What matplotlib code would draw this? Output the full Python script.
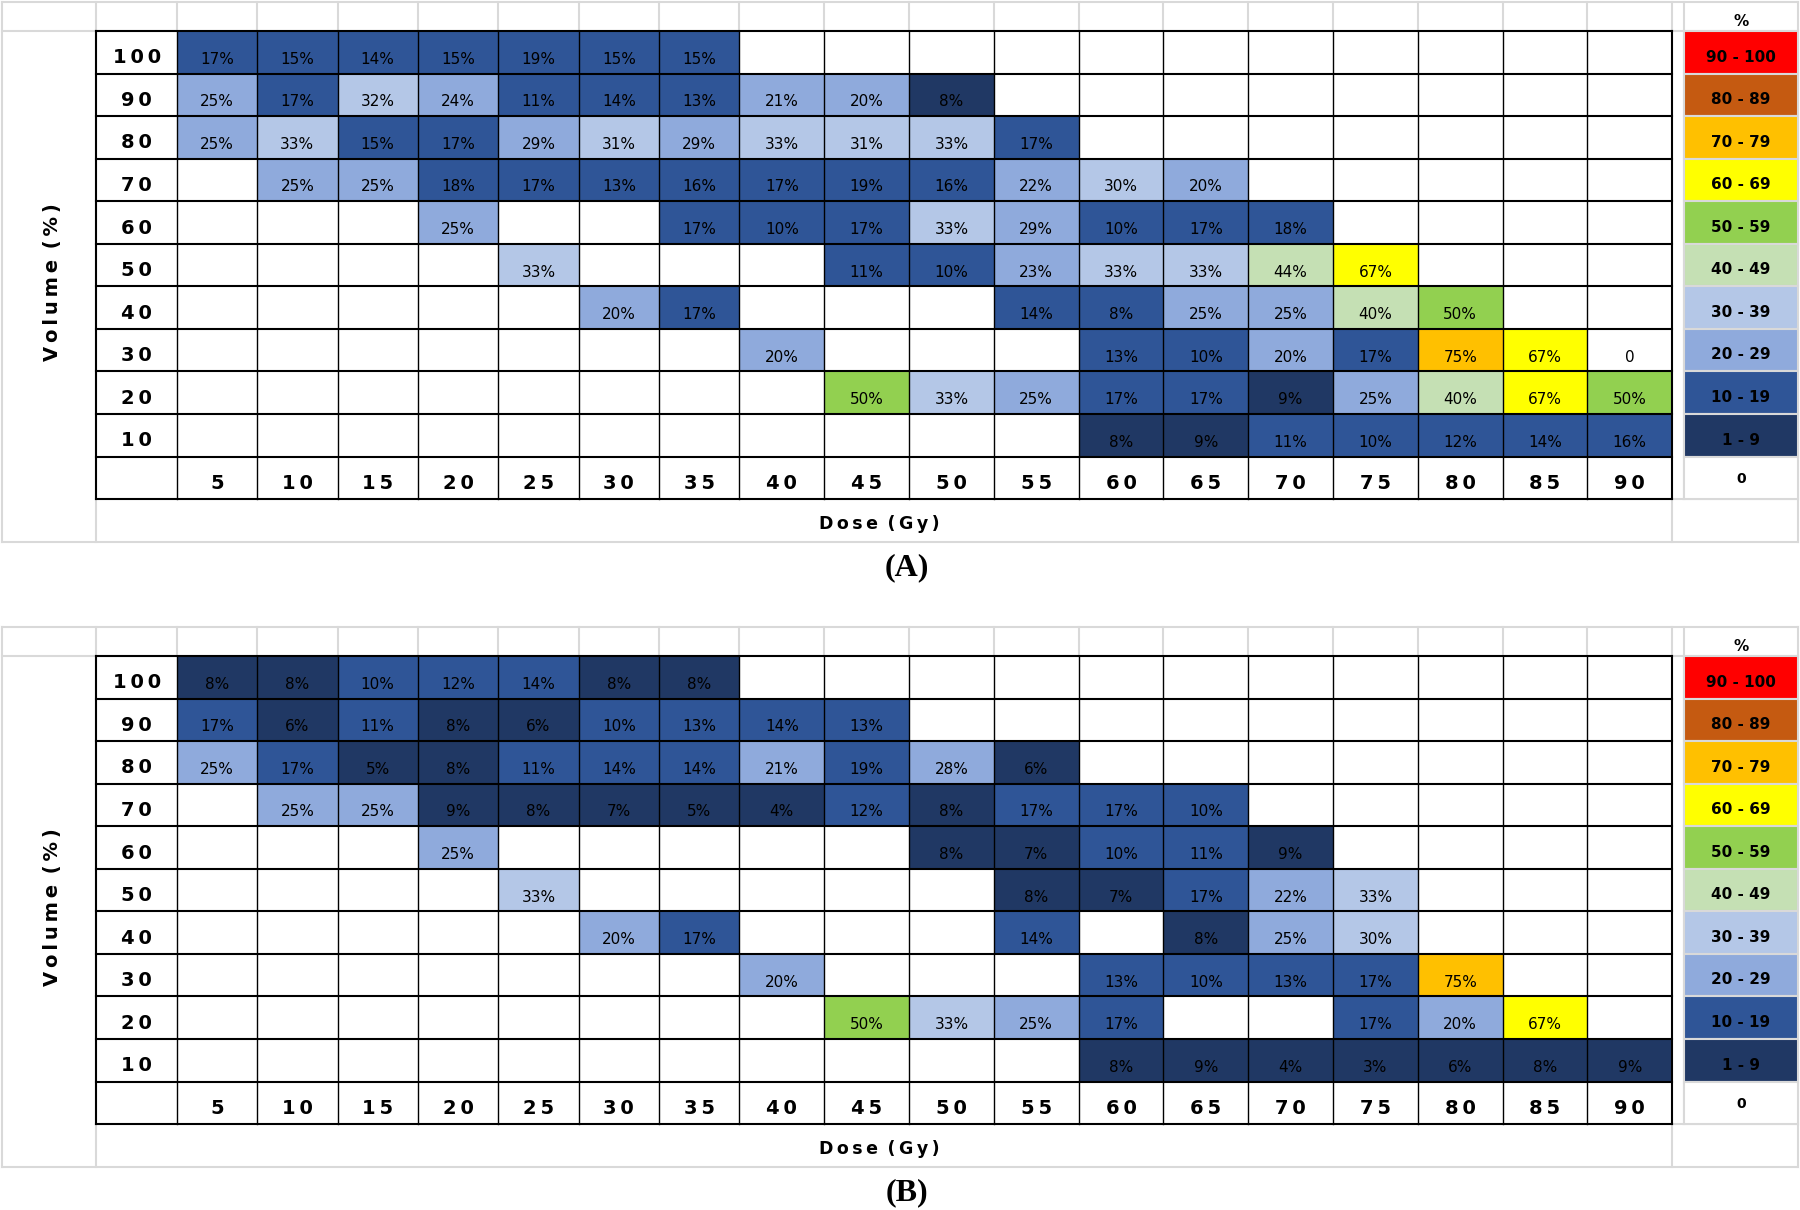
import matplotlib
matplotlib.use("Agg")
import matplotlib.pyplot as plt
from matplotlib.patches import Rectangle

# ---------------- data ----------------
doses = [5, 10, 15, 20, 25, 30, 35, 40, 45, 50, 55, 60, 65, 70, 75, 80, 85, 90]
volumes = [100, 90, 80, 70, 60, 50, 40, 30, 20, 10]
N = None

values_A = [
    [17, 15, 14, 15, 19, 15, 15, N, N, N, N, N, N, N, N, N, N, N],
    [25, 17, 32, 24, 11, 14, 13, 21, 20, 8, N, N, N, N, N, N, N, N],
    [25, 33, 15, 17, 29, 31, 29, 33, 31, 33, 17, N, N, N, N, N, N, N],
    [N, 25, 25, 18, 17, 13, 16, 17, 19, 16, 22, 30, 20, N, N, N, N, N],
    [N, N, N, 25, N, N, 17, 10, 17, 33, 29, 10, 17, 18, N, N, N, N],
    [N, N, N, N, 33, N, N, N, 11, 10, 23, 33, 33, 44, 67, N, N, N],
    [N, N, N, N, N, 20, 17, N, N, N, 14, 8, 25, 25, 40, 50, N, N],
    [N, N, N, N, N, N, N, 20, N, N, N, 13, 10, 20, 17, 75, 67, 0],
    [N, N, N, N, N, N, N, N, 50, 33, 25, 17, 17, 9, 25, 40, 67, 50],
    [N, N, N, N, N, N, N, N, N, N, N, 8, 9, 11, 10, 12, 14, 16],
]
# cell whose fill in the original does not follow its value's band
fill_override_A = {(40, 60): "10 - 19"}

values_B = [
    [8, 8, 10, 12, 14, 8, 8, N, N, N, N, N, N, N, N, N, N, N],
    [17, 6, 11, 8, 6, 10, 13, 14, 13, N, N, N, N, N, N, N, N, N],
    [25, 17, 5, 8, 11, 14, 14, 21, 19, 28, 6, N, N, N, N, N, N, N],
    [N, 25, 25, 9, 8, 7, 5, 4, 12, 8, 17, 17, 10, N, N, N, N, N],
    [N, N, N, 25, N, N, N, N, N, 8, 7, 10, 11, 9, N, N, N, N],
    [N, N, N, N, 33, N, N, N, N, N, 8, 7, 17, 22, 33, N, N, N],
    [N, N, N, N, N, 20, 17, N, N, N, 14, N, 8, 25, 30, N, N, N],
    [N, N, N, N, N, N, N, 20, N, N, N, 13, 10, 13, 17, 75, N, N],
    [N, N, N, N, N, N, N, N, 50, 33, 25, 17, N, N, 17, 20, 67, N],
    [N, N, N, N, N, N, N, N, N, N, N, 8, 9, 4, 3, 6, 8, 9],
]
fill_override_B = {}

legend_labels = ["90 - 100", "80 - 89", "70 - 79", "60 - 69", "50 - 59",
                 "40 - 49", "30 - 39", "20 - 29", "10 - 19", "1 - 9"]
legend_lows = [90, 80, 70, 60, 50, 40, 30, 20, 10, 1]
legend_colors = ["#FF0000", "#C55A11", "#FFC000", "#FFFF00", "#92D050",
                 "#C5E0B4", "#B4C7E7", "#8FAADC", "#2F5597", "#203864"]
panel_labels = ["(A)", "(B)"]

# ---------------- layout (pixels) ----------------
W, H = 1800, 1210
PANEL_DY = 625
X_FRAME_L, X_FRAME_R = 1.5, 1797.5
X_ROWLAB = 96.4
X_DATA0 = 176.8
COL_W_NARROW, COL_W_WIDE, N_NARROW = 80.37, 84.8, 7
X_TABLE_R = X_DATA0 + N_NARROW * COL_W_NARROW + (len(doses) - N_NARROW) * COL_W_WIDE
X_LEG_L = 1684.0
Y_FRAME_T = 1.5
Y_TABLE_T = 31.0
ROW_H = 42.55
GRID_GREY = "#D9D9D9"

col_edges = [X_DATA0]
for i in range(len(doses)):
    col_edges.append(col_edges[-1] + (COL_W_NARROW if i < N_NARROW else COL_W_WIDE))


def fill_for(v, override=None):
    if override is not None:
        return legend_colors[legend_labels.index(override)]
    if v is None or v == 0:
        return "white"
    for low, c in zip(legend_lows, legend_colors):
        if v >= low:
            return c
    return "white"


def spaced(s):
    return "\u2009".join(s)


fig = plt.figure(figsize=(W / 100, H / 100), dpi=100)
ax = fig.add_axes([0, 0, 1, 1])
ax.set_xlim(0, W)
ax.set_ylim(H, 0)
ax.axis("off")

LW_THICK = 1.5
LW_THIN = 1.0


def draw_panel(values, overrides, label, dy):
    y_top = Y_TABLE_T + dy
    n_rows = len(volumes) + 1
    y_bot_table = y_top + n_rows * ROW_H
    y_bot = y_bot_table + ROW_H

    # light grey spreadsheet frame / header grid
    g = dict(color=GRID_GREY, lw=1.5, zorder=1)
    ax.plot([X_FRAME_L, X_FRAME_R], [Y_FRAME_T + dy] * 2, **g)
    ax.plot([X_FRAME_L, X_FRAME_R], [y_top] * 2, **g)
    ax.plot([X_FRAME_L, X_FRAME_R], [y_bot] * 2, **g)
    ax.plot([X_FRAME_L] * 2, [Y_FRAME_T + dy, y_bot], **g)
    ax.plot([X_FRAME_R] * 2, [Y_FRAME_T + dy, y_bot], **g)
    ax.plot([X_ROWLAB] * 2, [Y_FRAME_T + dy, y_bot], **g)
    for xe in col_edges:
        ax.plot([xe] * 2, [Y_FRAME_T + dy, y_top], **g)
    ax.plot([X_LEG_L] * 2, [Y_FRAME_T + dy, y_bot_table], **g)
    ax.plot([X_TABLE_R] * 2, [y_bot_table, y_bot], **g)
    ax.plot([X_TABLE_R, X_FRAME_R], [y_bot_table] * 2, **g)

    # data cells
    for r, vol in enumerate(volumes):
        y0 = y_top + r * ROW_H
        for c, dose in enumerate(doses):
            v = values[r][c]
            x0, x1 = col_edges[c], col_edges[c + 1]
            ax.add_patch(Rectangle((x0, y0), x1 - x0, ROW_H,
                                   facecolor=fill_for(v, overrides.get((vol, dose))),
                                   edgecolor="none", zorder=2))
            if v is not None:
                txt = f"{v}%" if v > 0 else "0"
                ax.text((x0 + x1) / 2, y0 + 0.77 * ROW_H, txt, ha="center",
                        va="baseline", fontsize=11, color="black", zorder=5,
                        family="DejaVu Sans")
        # row label
        ax.text((X_ROWLAB + X_DATA0) / 2, y0 + 0.76 * ROW_H, spaced(str(vol)),
                ha="center", va="baseline", fontsize=14, fontweight="bold", zorder=5)

    # column labels
    y0 = y_top + len(volumes) * ROW_H
    for c, dose in enumerate(doses):
        ax.text((col_edges[c] + col_edges[c + 1]) / 2, y0 + 0.76 * ROW_H,
                spaced(str(dose)), ha="center", va="baseline", fontsize=14,
                fontweight="bold", zorder=5)

    # black table grid
    k = dict(color="black", zorder=4, solid_capstyle="projecting")
    for i in range(n_rows + 1):
        yy = y_top + i * ROW_H
        ax.plot([X_ROWLAB, X_TABLE_R], [yy, yy], lw=LW_THICK, **k)
    ax.plot([X_ROWLAB] * 2, [y_top, y_bot_table], lw=LW_THICK, **k)
    for j, xe in enumerate(col_edges):
        ax.plot([xe] * 2, [y_top, y_bot_table],
                lw=LW_THICK if j == len(col_edges) - 1 else LW_THIN, **k)

    # legend
    lx0, lx1 = X_LEG_L, X_FRAME_R
    ax.text((lx0 + lx1) / 2, Y_FRAME_T + dy + 0.62 * (y_top - Y_FRAME_T - dy) + 6,
            "%", ha="center", va="baseline", fontsize=11, fontweight="bold", zorder=5)
    for i, (lab, col) in enumerate(zip(legend_labels, legend_colors)):
        yy = y_top + i * ROW_H
        ax.add_patch(Rectangle((lx0, yy), lx1 - lx0, ROW_H, facecolor=col,
                               edgecolor=GRID_GREY, lw=1.5, zorder=3))
        ax.text((lx0 + lx1) / 2, yy + 0.72 * ROW_H, lab, ha="center",
                va="baseline", fontsize=11, fontweight="bold", zorder=5)
    yy = y_top + len(legend_labels) * ROW_H
    ax.add_patch(Rectangle((lx0, yy), lx1 - lx0, ROW_H, facecolor="white",
                           edgecolor=GRID_GREY, lw=1.5, zorder=3))
    ax.text((lx0 + lx1) / 2, yy + 0.62 * ROW_H, "0", ha="center",
            va="baseline", fontsize=10, fontweight="bold", zorder=5)

    # axis titles
    ax.text((X_ROWLAB + X_TABLE_R) / 2 - 5, y_bot_table + 0.7 * ROW_H,
            spaced("Dose") + "\u2009 " + spaced("(Gy)"), ha="center", va="baseline",
            fontsize=12.5, fontweight="bold", zorder=5)
    ax.text(X_ROWLAB / 2 + 4, y_top + 5.9 * ROW_H,
            spaced("Volume") + "\u2009 " + spaced("(%)"), ha="center", va="center",
            rotation=90, fontsize=14, fontweight="bold", zorder=5)

    # panel label
    ax.text(907, y_bot + 26, label, ha="center", va="center", fontsize=23,
            fontweight="bold", family="Liberation Serif", zorder=5)


draw_panel(values_A, fill_override_A, panel_labels[0], 0)
draw_panel(values_B, fill_override_B, panel_labels[1], PANEL_DY)

fig.savefig("out.png", dpi=100, facecolor="white")
